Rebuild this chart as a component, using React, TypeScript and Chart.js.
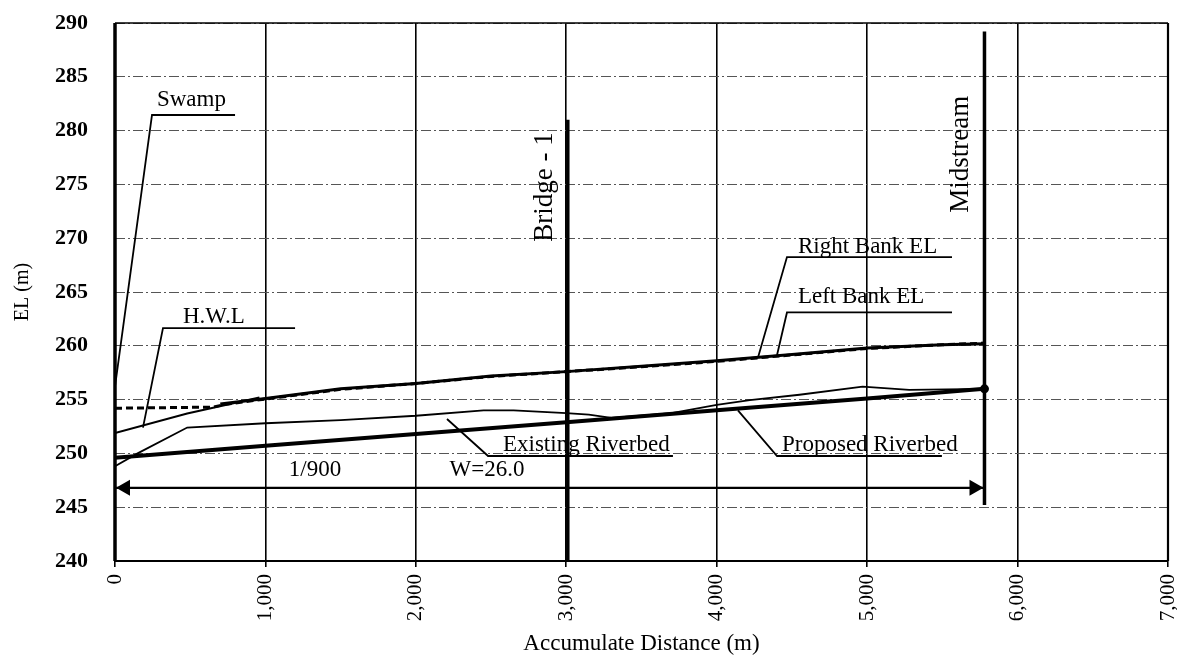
import React, { useEffect, useRef } from 'react';
import { Chart, registerables } from 'chart.js';

Chart.register(...registerables);

// ---- axis ticks ----
const xTickValues = [0, 1000, 2000, 3000, 4000, 5000, 6000, 7000];
const yTickValues = [240, 245, 250, 255, 260, 265, 270, 275, 280, 285, 290];

// ---- series (distance m, elevation m) ----
const proposedX = [0, 1000, 2000, 3000, 4000, 5000, 5780];
const proposedY = [249.6, 250.7, 251.8, 252.9, 254.0, 255.1, 256.0];

const existingX = [0, 150, 480, 1000, 1500, 2000, 2450, 2650, 3000, 3150, 3300, 3700, 3800, 4000, 4220, 4550, 4970, 5280, 5780];
const existingY = [248.8, 250.0, 252.4, 252.8, 253.1, 253.5, 254.0, 254.0, 253.75, 253.6, 253.3, 253.75, 254.0, 254.5, 254.95, 255.45, 256.2, 255.9, 256.0];

const hwlX = [0, 480, 960];
const hwlY = [251.9, 253.7, 255.2];

const rightBankX = [700, 1000, 1500, 2000, 2500, 3000, 3500, 4000, 4500, 5000, 5500, 5780];
const rightBankY = [254.6, 255.1, 256.0, 256.5, 257.2, 257.6, 258.1, 258.6, 259.2, 259.8, 260.1, 260.2];

const leftBankX = [0, 650, 750, 1000, 1500, 2000, 2500, 3000, 3500, 4000, 4500, 5000, 5500, 5780];
const leftBankY = [254.2, 254.3, 254.6, 255.05, 255.95, 256.5, 257.15, 257.6, 258.05, 258.55, 259.15, 259.75, 260.1, 260.25];

// ---- reference lines ----
const bridgeAt = 3010;
const bridgeRange = [281, 240];
const midstreamAt = 5780;
const midstreamRange = [289.2, 245.2];

// ---- dimension arrow ----
const arrowRangeX = [0, 5780];
const arrowLevel = 246.8;
const arrowTexts = ['1/900', 'W=26.0'];
const arrowTextX = [1330, 2473];
const arrowTextY = 248.45;

// ---- callouts ----
const calloutText = ['Swamp', 'H.W.L', 'Right Bank EL', 'Left Bank EL', 'Existing Riverbed', 'Proposed Riverbed'];
const calloutTip = [[0, 256.2], [186, 252.4], [4274, 258.9], [4401, 259.15], [2207, 253.2], [4141, 254.0]];
const calloutElbow = [[246, 281.45], [319, 261.65], [4467, 268.25], [4467, 263.1], [2480, 249.76], [4401, 249.76]];
const calloutEnd = [798, 1197, 5564, 5564, 3709, 5497];
const calloutTextAt = [[279, 282.85], [452, 262.7], [4540, 269.2], [4540, 264.55], [2579, 250.8], [4434, 250.8]];

const FONT = '"Liberation Serif", "Times New Roman", "DejaVu Serif", serif';

const toXY = (xs: number[], ys: number[]) => xs.map((x, i) => ({ x, y: ys[i] }));

const overlayPlugin = {
  id: 'overlay',
  afterDatasetsDraw(chart: any) {
    const { ctx, chartArea: a, scales } = chart;
    const xs = scales.x;
    const ys = scales.y;
    const px = (v: number) => xs.getPixelForValue(v);
    const py = (v: number) => ys.getPixelForValue(v);
    ctx.save();
    ctx.strokeStyle = '#000';
    ctx.fillStyle = '#000';
    ctx.setLineDash([]);

    // frame
    ctx.lineWidth = 1.5;
    ctx.beginPath(); ctx.moveTo(a.left, a.top); ctx.lineTo(a.right, a.top); ctx.stroke();
    ctx.lineWidth = 2.2;
    ctx.beginPath(); ctx.moveTo(a.right, a.top); ctx.lineTo(a.right, a.bottom); ctx.stroke();
    ctx.beginPath(); ctx.moveTo(a.left, a.bottom); ctx.lineTo(a.right, a.bottom); ctx.stroke();
    ctx.lineWidth = 3.5;
    ctx.beginPath(); ctx.moveTo(a.left, a.top); ctx.lineTo(a.left, a.bottom); ctx.stroke();

    // bridge & midstream lines
    ctx.lineWidth = 3.5;
    ctx.beginPath(); ctx.moveTo(px(bridgeAt), py(bridgeRange[0])); ctx.lineTo(px(bridgeAt), py(bridgeRange[1])); ctx.stroke();
    ctx.beginPath(); ctx.moveTo(px(midstreamAt), py(midstreamRange[0])); ctx.lineTo(px(midstreamAt), py(midstreamRange[1])); ctx.stroke();

    // rotated labels
    ctx.font = `27px ${FONT}`;
    ctx.textAlign = 'center';
    ctx.textBaseline = 'middle';
    const rot = (t: string, x: number, y: number) => {
      ctx.save(); ctx.translate(px(x), py(y)); ctx.rotate(-Math.PI / 2); ctx.fillText(t, 0, 0); ctx.restore();
    };
    rot('Bridge - 1', 2858, 274.75);
    rot('Midstream', 5624, 277.8);

    // dimension arrow
    const ay = py(arrowLevel);
    const ax0 = px(arrowRangeX[0]);
    const ax1 = px(arrowRangeX[1]);
    ctx.lineWidth = 2.2;
    ctx.beginPath(); ctx.moveTo(ax0, ay); ctx.lineTo(ax1, ay); ctx.stroke();
    ctx.beginPath(); ctx.moveTo(ax0 + 1, ay); ctx.lineTo(ax0 + 15, ay - 8); ctx.lineTo(ax0 + 15, ay + 8); ctx.closePath(); ctx.fill();
    ctx.beginPath(); ctx.moveTo(ax1 - 1, ay); ctx.lineTo(ax1 - 15, ay - 8); ctx.lineTo(ax1 - 15, ay + 8); ctx.closePath(); ctx.fill();
    ctx.font = `23px ${FONT}`;
    ctx.textAlign = 'center';
    arrowTexts.forEach((t, i) => ctx.fillText(t, px(arrowTextX[i]), py(arrowTextY)));

    // callouts
    ctx.lineWidth = 1.8;
    ctx.textAlign = 'left';
    calloutText.forEach((t, i) => {
      const [tx, ty] = calloutTip[i];
      const [ex, ey] = calloutElbow[i];
      ctx.beginPath();
      ctx.moveTo(px(tx), py(ty));
      ctx.lineTo(px(ex), py(ey));
      ctx.lineTo(px(calloutEnd[i]), py(ey));
      ctx.stroke();
      ctx.fillText(t, px(calloutTextAt[i][0]), py(calloutTextAt[i][1]));
    });
    ctx.restore();
  },
};

export default function App() {
  const ref = useRef<HTMLCanvasElement>(null);
  useEffect(() => {
    document.body.style.margin = '0';
    const canvas = ref.current;
    if (!canvas) return;
    const chart = new Chart(canvas, {
      type: 'line',
      data: {
        datasets: [
          {
            label: 'Proposed Riverbed',
            data: toXY(proposedX, proposedY),
            borderColor: '#000',
            backgroundColor: '#000',
            borderWidth: 4,
            pointRadius: proposedX.map((_, i) => (i === proposedX.length - 1 ? 4.5 : 0)),
            pointBorderWidth: 0,
          },
          {
            label: 'Existing Riverbed',
            data: toXY(existingX, existingY),
            borderColor: '#000',
            borderWidth: 1.8,
            pointRadius: 0,
          },
          {
            label: 'H.W.L',
            data: toXY(hwlX, hwlY),
            borderColor: '#000',
            borderWidth: 2,
            pointRadius: 0,
          },
          {
            label: 'Left Bank EL',
            data: toXY(leftBankX, leftBankY),
            borderColor: '#000',
            borderWidth: 3,
            borderDash: [7, 4],
            pointRadius: 0,
          },
          {
            label: 'Right Bank EL',
            data: toXY(rightBankX, rightBankY),
            borderColor: '#000',
            borderWidth: 3,
            pointRadius: 0,
          },
        ],
      },
      options: {
        animation: false,
        responsive: false,
        events: [],
        layout: { padding: { top: 23, right: 9, left: 0, bottom: 0 } },
        plugins: {
          legend: { display: false },
          tooltip: { enabled: false },
          title: { display: false },
        },
        scales: {
          x: {
            type: 'linear',
            min: 0,
            max: 7000,
            afterBuildTicks: (s: any) => { s.ticks = xTickValues.map((v) => ({ value: v })); },
            afterFit: (s: any) => { s.height = 106; s.paddingLeft = 0; s.paddingRight = 0; },
            ticks: {
              autoSkip: false,
              maxRotation: 90,
              minRotation: 90,
              padding: 7,
              color: '#000',
              font: { family: FONT, size: 21 },
              callback: (v: any) => Number(v).toLocaleString('en-US'),
            },
            grid: { color: '#000', lineWidth: 1.6, drawTicks: true, tickLength: 6, tickColor: '#000' },
            border: { display: false },
            title: {
              display: true,
              text: 'Accumulate Distance (m)',
              color: '#000',
              font: { family: FONT, size: 23 },
              padding: { top: 0, bottom: 9 },
            },
          },
          y: {
            type: 'linear',
            min: 240,
            max: 290,
            afterBuildTicks: (s: any) => { s.ticks = yTickValues.map((v) => ({ value: v })); },
            afterFit: (s: any) => { s.width = 115; s.paddingTop = 0; s.paddingBottom = 0; },
            ticks: {
              padding: 27,
              color: '#000',
              font: { family: FONT, size: 22, weight: 'bold' },
            },
            grid: { color: '#555', lineWidth: 1, drawTicks: false },
            border: { display: false, dash: [10, 3, 2, 3] },
            title: {
              display: true,
              text: 'EL (m)',
              color: '#000',
              font: { family: FONT, size: 20 },
              padding: { top: 11, bottom: 0 },
            },
          },
        },
      } as any,
      plugins: [overlayPlugin],
    });
    return () => chart.destroy();
  }, []);
  return (
    <div style={{ width: 1177, height: 667, background: '#fff' }}>
      <canvas ref={ref} width={1177} height={667} style={{ display: 'block' }} />
    </div>
  );
}
